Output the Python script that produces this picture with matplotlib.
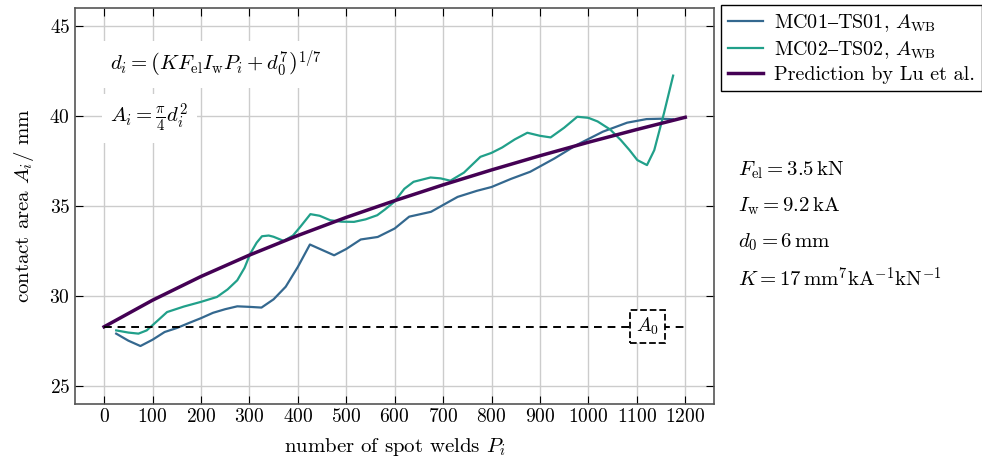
import numpy as np
import matplotlib
matplotlib.use("Agg")
import matplotlib.pyplot as plt

plt.rcParams['font.family'] = ['cmr10', 'DejaVu Serif']
plt.rcParams['mathtext.fontset'] = 'cm'
plt.rcParams['axes.formatter.use_mathtext'] = True
plt.rcParams['font.size'] = 14

# MC01-TS01
p_mc01 = [25, 50, 75, 100, 125, 150, 175, 200, 225, 250, 275, 300, 325, 350, 375,
          400, 425, 450, 475, 500, 530, 565, 600, 630, 675, 710, 730, 770, 800,
          840, 880, 930, 975, 1030, 1080, 1120, 1150, 1175]
a_mc01 = [27.89, 27.5, 27.2, 27.55, 27.98, 28.2, 28.48, 28.75, 29.05, 29.25, 29.41,
          29.38, 29.34, 29.8, 30.5, 31.6, 32.85, 32.55, 32.25, 32.6, 33.13, 33.27,
          33.74, 34.4, 34.67, 35.2, 35.5, 35.84, 36.05, 36.5, 36.9, 37.64, 38.38,
          39.13, 39.63, 39.83, 39.85, 39.82]

# MC02-TS02
p_mc02 = [25, 50, 71, 88, 110, 130, 165, 199, 233, 255, 275, 290, 302, 315, 326,
          340, 350, 371, 390, 405, 426, 445, 467, 490, 516, 540, 564, 580, 599,
          620, 639, 674, 695, 715, 743, 777, 800, 822, 848, 874, 900, 922, 950,
          977, 1000, 1019, 1045, 1067, 1085, 1101, 1121, 1136, 1156, 1175]
a_mc02 = [28.07, 27.95, 27.89, 28.07, 28.6, 29.09, 29.4, 29.65, 29.93, 30.35, 30.86,
          31.55, 32.35, 32.95, 33.31, 33.35, 33.28, 33.05, 33.35, 33.83, 34.54, 34.45,
          34.2, 34.12, 34.11, 34.25, 34.48, 34.8, 35.22, 35.95, 36.34, 36.58, 36.53,
          36.4, 36.85, 37.73, 37.95, 38.25, 38.7, 39.07, 38.9, 38.81, 39.35, 39.96,
          39.9, 39.7, 39.25, 38.66, 38.1, 37.55, 37.27, 38.1, 40.15, 42.25]

# prediction by Lu et al.
p_lu = [0, 100, 200, 300, 400, 500, 600, 700, 800, 900, 1000, 1100, 1200]
a_lu = [28.27, 29.75, 31.07, 32.26, 33.35, 34.36, 35.29, 36.17, 37.0, 37.79,
        38.54, 39.25, 39.93]

a0 = 28.27

fig = plt.figure(figsize=(9.82, 4.57), dpi=100)
ax = fig.add_axes([0.0764, 0.117, 0.651, 0.865])

ax.plot(p_mc01, a_mc01, color='#34688f', lw=1.6, label=r'MC01$–$TS01, $A_{\mathrm{WB}}$')
ax.plot(p_mc02, a_mc02, color='#21a08a', lw=1.6, label=r'MC02$–$TS02, $A_{\mathrm{WB}}$')
ax.plot(p_lu, a_lu, color='#440154', lw=2.5, label='Prediction by Lu et al.')
ax.plot([p_lu[0], p_lu[-1]], [a0, a0], color='black', lw=1.4, ls=(0, (4, 3)))

ax.text(1122, a0, r'$A_0$', ha='center', va='center', fontsize=14,
        bbox=dict(boxstyle='square,pad=0.3', fc='white', ec='black', ls='--', lw=1.3))

ax.text(0.055, 0.858, r'$d_i = \left(K F_{\mathrm{el}} I_{\mathrm{w}} P_i + d_0^7\right)^{1/7}$',
        transform=ax.transAxes, fontsize=15, va='center', ha='left',
        bbox=dict(boxstyle='square,pad=0.4', fc='white', ec='none'))
ax.text(0.055, 0.722, r'$A_i = \frac{\pi}{4} d_i^2$',
        transform=ax.transAxes, fontsize=15, va='center', ha='left',
        bbox=dict(boxstyle='square,pad=0.4', fc='white', ec='none'))

params = [r'$F_{\mathrm{el}} = 3.5\,\mathrm{kN}$',
          r'$I_{\mathrm{w}} = 9.2\,\mathrm{kA}$',
          r'$d_0 = 6\,\mathrm{mm}$',
          r'$K = 17\,\mathrm{mm}^7\mathrm{kA}^{-1}\mathrm{kN}^{-1}$']
for i, t in enumerate(params):
    fig.text(0.752, 0.628 - i * 0.0795, t, fontsize=15, va='center', ha='left')

ax.set_xlim(-60, 1260)
ax.set_ylim(24, 46)
ax.set_xticks(np.arange(0, 1201, 100))
ax.set_yticks([25, 30, 35, 40, 45])
ax.grid(True, color='#cccccc', lw=1)
ax.set_axisbelow(True)
ax.tick_params(direction='in', top=True, right=True, length=6, labelsize=14)
for s in ax.spines.values():
    s.set_color('#555555')
    s.set_linewidth(1.2)

ax.set_xlabel(r'number of spot welds $P_i$', fontsize=15, labelpad=7)
ax.set_ylabel(r'contact area $A_i$/ mm', fontsize=15, labelpad=10)

leg = ax.legend(loc='upper left', bbox_to_anchor=(1.011, 1.008), fancybox=False,
                edgecolor='black', framealpha=1, fontsize=14.5, handlelength=1.7,
                handletextpad=0.55, borderaxespad=0, borderpad=0.35, labelspacing=0.25)
leg.get_frame().set_linewidth(1.0)

fig.savefig('out.png', dpi=100)
